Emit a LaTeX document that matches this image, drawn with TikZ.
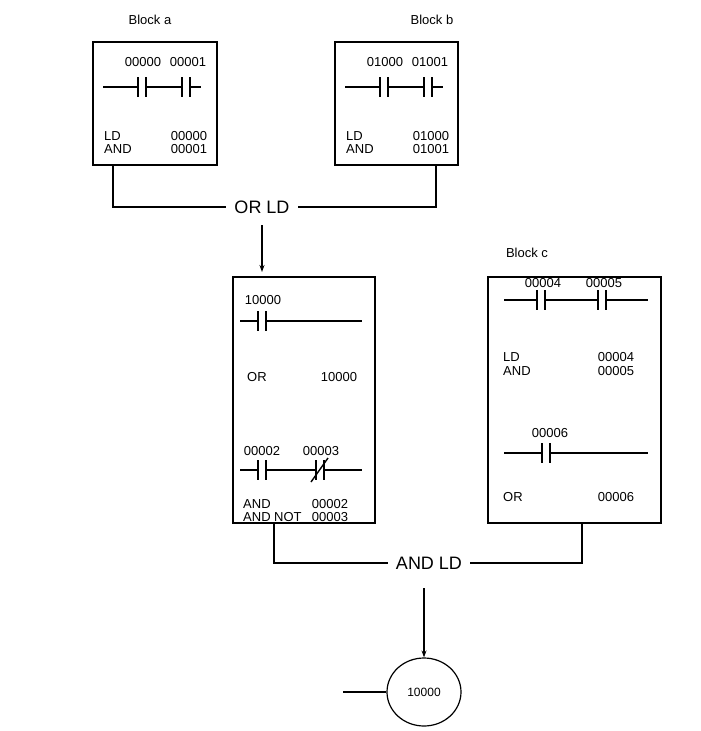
\documentclass[tikz,border=0pt]{standalone}
\usepackage{fontspec}
\setmainfont{Liberation Sans}
\usetikzlibrary{arrows.meta,shapes.geometric}

\tikzset{
	box/.style={draw,line width=1.2pt},
	rung/.style={line width=1.2pt},
	txt/.style={font=\fontsize{13}{13}\selectfont,inner sep=0pt},
	op/.style={font=\fontsize{18}{18}\selectfont,inner xsep=8pt,inner ysep=2pt,fill=white},
	flow/.style={line width=1.2pt,-{Stealth[length=7pt,width=5pt]}}
}
% contact symbol: bars centred at x, on rung at y
\newcommand{\contact}[2]{
	\fill[white] (#1-5,#2-1) rectangle (#1+5,#2+1);
	\draw[line width=1.6pt] (#1-4,#2-10) -- (#1-4,#2+10) (#1+4,#2-10) -- (#1+4,#2+10);
}

\begin{document}
	\begin{tikzpicture}[x=1pt,y=-1pt]
		\useasboundingbox (0,0) rectangle (701,731);
		%
		\begin{scope}
			\node[txt] (labela) at (150,20) {Block a};
			\node[txt] (labelb) at (432,20) {Block b};
			\node[txt] (labelc) at (527,253) {Block c};
			\draw[box] (93,42) rectangle (217,165);
			\draw[box] (335,42) rectangle (458,165);
			\draw[box] (233,277) rectangle (375,523);
			\draw[box] (488,277) rectangle (661,523);
		\end{scope}
		%
		% block a and b
		\foreach \bx/\ca/\cb in {0/00000/00001,242/01000/01001}{
			\begin{scope}[xshift=\bx]
				\draw[rung] (103,87) -- (201,87);
				\contact{142}{87}
				\contact{186}{87}
				\node[txt] at (143,62) {\ca};
				\node[txt] at (188,62) {\cb};
				\node[txt,anchor=west] at (104,136) {LD};
				\node[txt,anchor=west] at (104,149) {AND};
				\node[txt] at (189,136) {\ca};
				\node[txt] at (189,149) {\cb};
			\end{scope}
		}
		%
		% middle block
		\draw[rung] (240,321) -- (362,321);
		\contact{262}{321}
		\node[txt] at (263,300) {10000};
		\node[txt,anchor=west] at (247,377) {OR};
		\node[txt] at (339,377) {10000};
		\draw[rung] (240,470) -- (362,470);
		\contact{262}{470}
		\contact{320}{470}
		\draw[line width=1.4pt] (311,482) -- (328,458);
		\node[txt] at (262,451) {00002};
		\node[txt] at (321,451) {00003};
		\node[txt,anchor=west] at (243,504) {AND};
		\node[txt,anchor=west] at (243,517) {AND NOT};
		\node[txt] at (330,504) {00002};
		\node[txt] at (330,517) {00003};
		%
		% block c
		\draw[rung] (504,300) -- (648,300);
		\contact{541}{300}
		\contact{602}{300}
		\node[txt] at (543,283) {00004};
		\node[txt] at (604,283) {00005};
		\node[txt,anchor=west] at (503,357) {LD};
		\node[txt,anchor=west] at (503,371) {AND};
		\node[txt] at (616,357) {00004};
		\node[txt] at (616,371) {00005};
		\draw[rung] (504,453) -- (648,453);
		\contact{546}{453}
		\node[txt] at (550,433) {00006};
		\node[txt,anchor=west] at (503,497) {OR};
		\node[txt] at (616,497) {00006};
		%
		% combining
		\node[op] (orld) at (262,207) {OR LD};
		\draw[rung] (113,165) |- (orld.west);
		\draw[rung] (436,165) |- (orld.east);
		\coordinate (orldtop) at (262,225);
		\coordinate (orldend) at (262,272);
		\draw[flow] (orldtop) -- (orldend);
		\node[op] (andld) at (429,563) {AND LD};
		\draw[rung] (274,523) |- (andld.west);
		\draw[rung] (582,523) |- (andld.east);
		\coordinate (andldtop) at (424,588);
		\node[draw,line width=1.2pt,ellipse,minimum width=74pt,minimum height=68pt,
			txt,font=\fontsize{12}{12}\selectfont] (coil) at (424,692) {10000};
		\draw[flow] (andldtop) -- (coil.north);
		\coordinate (coilin) at (343,692);
		\draw[rung] (coilin) -- (coil.west);
	\end{tikzpicture}
\end{document}
